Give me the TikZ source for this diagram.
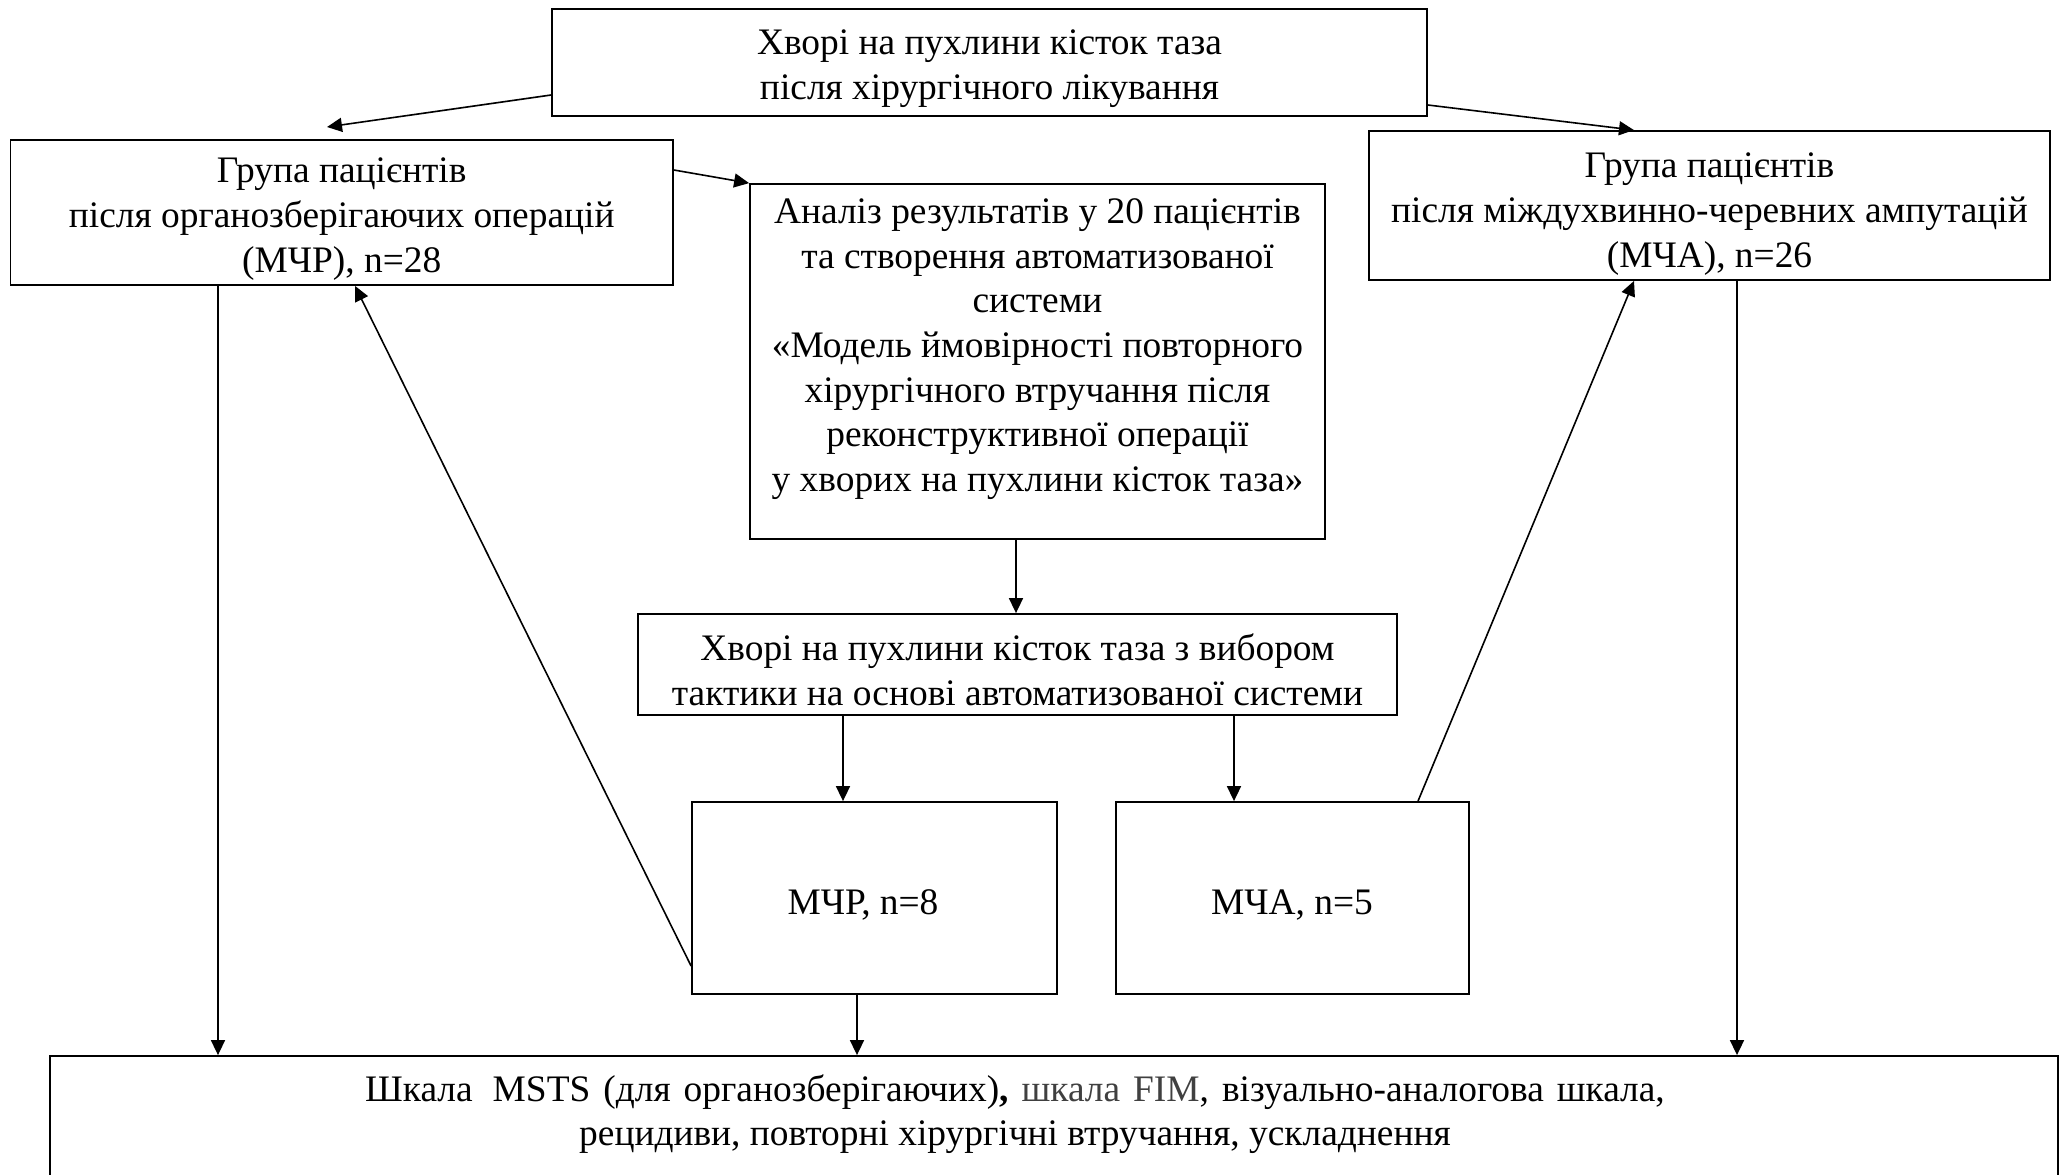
\documentclass[tikz,border=0pt]{standalone}
\usepackage{fontspec}
\setmainfont{Liberation Serif}
\usetikzlibrary{arrows.meta}
\definecolor{fimgray}{HTML}{404040}
\tikzset{
  box/.style={draw=black, line width=0.9pt, rectangle, inner sep=0pt},
  txt/.style={align=center, inner sep=0pt, font=\fontsize{18.7pt}{22.3pt}\selectfont},
  arr/.style={line width=0.8pt, -{Triangle[length=7.5pt,width=7pt]}}
}
\begin{document}
\begin{tikzpicture}[x=0.5pt,y=-0.5pt]
\useasboundingbox (0,0) rectangle (2062,1174);
\clip (0,0) rectangle (2062,1174);
% boxes
\node[box, minimum width=437.5pt, minimum height=53.5pt] (top) at (989.5,62.5) {};
\node[box, minimum width=331.25pt, minimum height=72.5pt] (lbox) at (341.75,212.5) {};
\node[box, minimum width=340.5pt, minimum height=74.5pt] (rbox) at (1709.5,205.5) {};
\node[box, minimum width=287.5pt, minimum height=177.5pt] (anal) at (1037.5,361.5) {};
\node[box, minimum width=379.5pt, minimum height=50.5pt] (vyb) at (1017.5,664.5) {};
\node[box, minimum width=182.5pt, minimum height=96pt] (mchr) at (874.5,898) {};
\node[box, minimum width=176.5pt, minimum height=96pt] (mcha) at (1292.5,898) {};
\node[box, minimum width=1004pt, minimum height=97pt] (bot) at (1054,1153) {};
% texts
\node[txt] (topt) at (989.5,68.5) {Хворі на пухлини кісток таза\\після хірургічного лікування};
\node[txt] (lboxt) at (341.75,219) {Група пацієнтів\\після органозберігаючих операцій\\(МЧР), n=28};
\node[txt] (rboxt) at (1709.5,214) {Група пацієнтів\\після міждухвинно-черевних ампутацій\\(МЧА), n=26};
\node[txt] (analt) at (1037.5,349) {Аналіз результатів у 20 пацієнтів\\та створення автоматизованої\\системи\\ «Модель ймовірності повторного\\хірургічного втручання після\\реконструктивної операції\\у хворих на пухлини кісток таза»};
\node[txt] (vybt) at (1017.5,670) {Хворі на пухлини кісток таза з вибором\\тактики на основі автоматизованої системи};
\node[txt] (mchrt) at (863,905) {МЧР, n=8};
\node[txt] (mchat) at (1292,905) {МЧА, n=5};
\node[txt] (bott) at (1015,1114) {{\spaceskip=6.5pt plus 1pt Шкала\hspace{10pt}MSTS (для органозберігаючих)\textbf{,} \textcolor{fimgray}{шкала FIM}, візуально-аналогова шкала,}\\рецидиви, повторні хірургічні втручання, ускладнення};
% free-end coordinates
\coordinate (t1) at (327,127);
% connectors
\draw[arr] (top.west |- 0,95) -- (t1);
\draw[arr] (top.east |- 0,105) -- (rbox.north -| 1634,0);
\draw[arr] (lbox.east |- 0,170) -- (anal.north west);
\draw[arr] (anal.south -| 1016,0) -- (vyb.north -| 1016,0);
\draw[arr] (vyb.south -| 843,0) -- (mchr.north -| 843,0);
\draw[arr] (vyb.south -| 1234,0) -- (mcha.north -| 1234,0);
\draw[arr] (mchr.south -| 857,0) -- (bot.north -| 857,0);
\draw[arr] (lbox.south -| 218,0) -- (bot.north -| 218,0);
\draw[arr] (rbox.south -| 1737,0) -- (bot.north -| 1737,0);
\draw[arr] (mchr.west |- 0,966) -- (lbox.south -| 355,0);
\draw[arr] (mcha.north -| 1418,0) -- (rbox.south -| 1634,0);
\end{tikzpicture}
\end{document}
